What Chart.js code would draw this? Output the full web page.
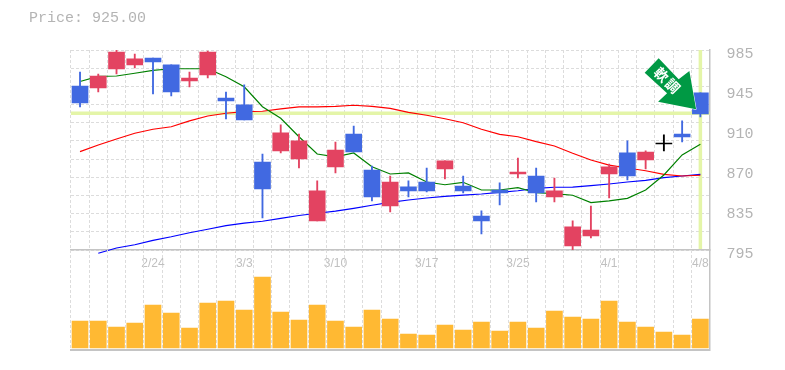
<!DOCTYPE html>
<html>
<head>
<meta charset="utf-8">
<script src="https://cdn.jsdelivr.net/npm/chart.js@4"></script>
<style>
  html, body { margin: 0; padding: 0; background: #fff; }
  canvas { position: absolute; left: 0; }
</style>
</head>
<body>
<canvas id="precos" width="785" height="370" style="top:0"></canvas>
<canvas id="volume" width="785" height="370" style="top:0"></canvas>
<script>
const dates = ['2/18','2/19','2/20','2/21','2/24','2/25','2/26','2/27','2/28','3/3','3/4','3/5','3/6','3/7','3/10','3/11','3/12','3/13','3/14','3/17','3/18','3/19','3/21','3/24','3/25','3/26','3/27','3/28','3/31','4/1','4/2','4/3','4/4','4/7','4/8'];
const shownDates = ['2/24','3/3','3/10','3/17','3/25','4/1','4/8'];
const priceLabels = ['795','835','870','910','945','985'];
const priceTicks = [795,833,871,909,947,985];
const currentPrice = 925;
const priceTitle = 'Price: 925.00';

const opens  = [950.8,948.9,967,970.8,977.4,970.8,955.6,961.3,939.4,932.8,878.6,889.1,881.5,822.6,873.9,905.2,871,836.8,854.9,859.6,872,855.8,827.3,852,867.2,865.3,845.4,798.8,808.3,867.2,887.2,880.5,895.7,905.2,944.2];
const closes = [934.7,960.3,983.1,976.5,973.6,945.1,958.4,983.1,936.6,918.5,853,906.2,898.6,851.1,890,888.1,845.4,859.6,851.1,851.1,879.6,851.1,822.6,849.2,869.1,849.2,851.1,816.9,814,873.9,865.3,888.1,895.7,902.4,924.2];
const highs  = [964.1,962.2,985,981.2,977.4,970.8,964.1,984,945.1,951.8,886.2,913.8,905.2,860.6,897.6,912.8,874.8,865.3,860.6,872.9,879.6,865.3,832.1,858.7,882.4,872.9,863.4,822.6,836.8,876.7,898.6,889.1,904.3,917.6,944.2];
const lows   = [930.9,945.1,962.2,967.9,943.2,941.3,949.9,958.4,919.5,918.5,825.4,887.2,872.9,822.6,868.2,888.1,841.6,831.1,845.4,850.1,862.5,849.2,810.2,837.8,863.4,840.6,840.6,795,806.4,844.4,861.5,872,889.1,897.6,921.4];

const maShort = [955.1,960,960.3,962.9,965.7,967.2,967.2,967.2,959.6,950.1,931.1,920.1,902.6,886.2,883.4,887.2,874.1,867.2,868.2,859.6,857,859.3,852,852,854.2,849.4,848.5,847,840,841.6,844.1,852,866.3,885.3,895.4];
const maMid   = [888.4,894.8,900.5,905.9,909.7,912.1,917.6,922.3,924.9,926.4,926.8,929,930.9,930.9,931.5,932.5,931.5,929.6,925.8,923,919.7,915.9,909.7,904.9,902.6,897.9,893.8,886.9,880.5,875.7,872.9,870.3,866.9,865.3,866];
const maLong  = [null,791.9,796.9,800,804.2,807.6,811.4,814.7,818.1,820.6,822.3,825.1,827.8,829.9,832,834.6,837.5,840.3,842.5,844.4,846,847.2,848.2,849.8,851.3,853.6,854.6,854.8,856.1,857.7,859.6,861.2,863.7,865.3,866.9];

const volumes = [27,27,21,25,43,35,20,45,47,38,71,36,28,43,27,21,38,29,14,13,23,18,26,17,26,20,37,31,29,47,26,21,16,13,29];

const trendText = '軟調';

const corGrade = '#dcdcdc';
const corEixo = '#c4c4c4';
const corTexto = '#b4b4b4';
const corAtual = '#e4f5a8';

// alta = vermelho, baixa = azul, sem corpo = preto
function corCandle(i) {
    if (closes[i] > opens[i]) return '#e34361';
    if (closes[i] < opens[i]) return '#4169e1';
    return '#000000';
}
const coresCandle = dates.map((d, i) => corCandle(i));

// linhas do preço atual, atrás dos candles
const linhaAtual = {
    id: 'linhaAtual',
    beforeDatasetsDraw(chart) {
        const { ctx, chartArea, scales } = chart;
        const y = scales.y.getPixelForValue(currentPrice);
        const x = scales.x.getPixelForValue(dates.length - 1);
        ctx.save();
        ctx.strokeStyle = corAtual;
        ctx.lineWidth = 3.5;
        ctx.beginPath();
        ctx.moveTo(chartArea.left, y);
        ctx.lineTo(chartArea.right, y);
        ctx.moveTo(x, chartArea.top);
        ctx.lineTo(x, chartArea.bottom - 1);
        ctx.stroke();
        ctx.restore();
    }
};

// seta de tendência, presa ao último candle
const setaTendencia = {
    id: 'setaTendencia',
    afterDatasetsDraw(chart) {
        const { ctx, scales } = chart;
        const px = scales.x.getPixelForValue(dates.length - 1) - 4.3;
        const py = scales.y.getPixelForValue(currentPrice) - 3.8;
        const pontos = [[0,0],[-38,-7.6],[-29,-16],[-51.4,-36.6],[-37.4,-51],[-17.4,-30],[-6.7,-38.3]];
        ctx.save();
        ctx.beginPath();
        pontos.forEach((p, i) => i ? ctx.lineTo(px + p[0], py + p[1]) : ctx.moveTo(px + p[0], py + p[1]));
        ctx.closePath();
        ctx.fillStyle = '#009944';
        ctx.strokeStyle = '#ffffff';
        ctx.lineWidth = 1;
        ctx.stroke();
        ctx.fill();
        ctx.translate(px - 29, py - 29);
        ctx.rotate(Math.PI / 4);
        ctx.fillStyle = '#ffffff';
        ctx.font = 'bold 14px "Noto Sans CJK JP"';
        ctx.textAlign = 'center';
        ctx.textBaseline = 'middle';
        ctx.fillText(trendText[0], -8, 0);
        ctx.fillText(trendText[1], 8, 0);
        ctx.restore();
    }
};

// título no canto superior esquerdo
const tituloPreco = {
    id: 'tituloPreco',
    afterDraw(chart) {
        const { ctx } = chart;
        ctx.save();
        ctx.fillStyle = corTexto;
        ctx.font = '15px "Liberation Mono"';
        ctx.textBaseline = 'middle';
        ctx.fillText(priceTitle, 29, 18);
        ctx.restore();
    }
};

const gradeX = { color: corGrade, lineWidth: 1, drawTicks: false };

new Chart(document.getElementById('precos'), {
    type: 'bar',
    data: {
        labels: dates,
        datasets: [
            { data: opens.map((v, i) => [v, closes[i]]), backgroundColor: coresCandle, barThickness: 16, minBarLength: 1, grouped: false, order: 1 },
            { data: lows.map((v, i) => [v, highs[i]]), backgroundColor: coresCandle, barThickness: 1.2, grouped: false, order: 2 },
            { type: 'line', data: maShort, borderColor: '#008000', borderWidth: 1.2, pointRadius: 0, order: 3 },
            { type: 'line', data: maMid, borderColor: '#ff0000', borderWidth: 1.2, pointRadius: 0, order: 4 },
            { type: 'line', data: maLong, borderColor: '#0000ff', borderWidth: 1.2, pointRadius: 0, clip: false, order: 5 }
        ]
    },
    options: {
        responsive: false,
        animation: false,
        events: [],
        layout: { padding: { left: 70.9, top: 50, right: 0, bottom: 100 } },
        plugins: { legend: { display: false }, title: { display: false }, tooltip: { enabled: false } },
        scales: {
            x: {
                grid: gradeX,
                border: { color: corEixo, width: 1.5, dash: [3, 2] },
                afterFit: (axis) => { axis.height = 20; },
                ticks: {
                    autoSkip: false, maxRotation: 0, padding: 6,
                    color: '#c0c0c0',
                    font: { family: '"Liberation Sans"', size: 12 },
                    callback(v) { const d = dates[v]; return shownDates.includes(d) ? d : ''; }
                }
            },
            y: {
                position: 'right',
                min: 795, max: 985,
                grid: { display: false },
                border: { color: corEixo, width: 1.5 },
                afterBuildTicks: (axis) => { axis.ticks = priceTicks.map((value) => ({ value })); },
                afterFit: (axis) => { axis.width = 75.5; },
                ticks: {
                    padding: 9, labelOffset: 4,
                    color: corTexto,
                    font: { family: '"Liberation Mono"', size: 15 },
                    callback(v) { return priceLabels[priceTicks.indexOf(v)]; }
                }
            },
            grade: {
                position: 'left',
                min: 795, max: 985,
                grid: { color: corGrade, lineWidth: 1, drawTicks: false },
                border: { display: false, dash: [3, 2] },
                ticks: { display: false, stepSize: 190 / 11 },
                afterFit: (axis) => { axis.width = 0; }
            }
        }
    },
    plugins: [linhaAtual, setaTendencia, tituloPreco]
});

new Chart(document.getElementById('volume'), {
    type: 'bar',
    data: {
        labels: dates,
        datasets: [{ data: volumes, backgroundColor: '#ffb933', barThickness: 16 }]
    },
    options: {
        responsive: false,
        animation: false,
        events: [],
        layout: { padding: { left: 70.9, top: 250, right: 0, bottom: 20 } },
        plugins: { legend: { display: false }, title: { display: false }, tooltip: { enabled: false } },
        scales: {
            x: {
                grid: gradeX,
                border: { color: corEixo, width: 2, dash: [3, 2] },
                afterFit: (axis) => { axis.height = 0; },
                ticks: { display: false, autoSkip: false }
            },
            y: {
                position: 'right',
                min: -2, max: 98,
                grid: { display: false },
                border: { color: corEixo, width: 1.5 },
                ticks: { display: false },
                afterFit: (axis) => { axis.width = 75.5; }
            }
        }
    }
});
</script>
</body>
</html>
